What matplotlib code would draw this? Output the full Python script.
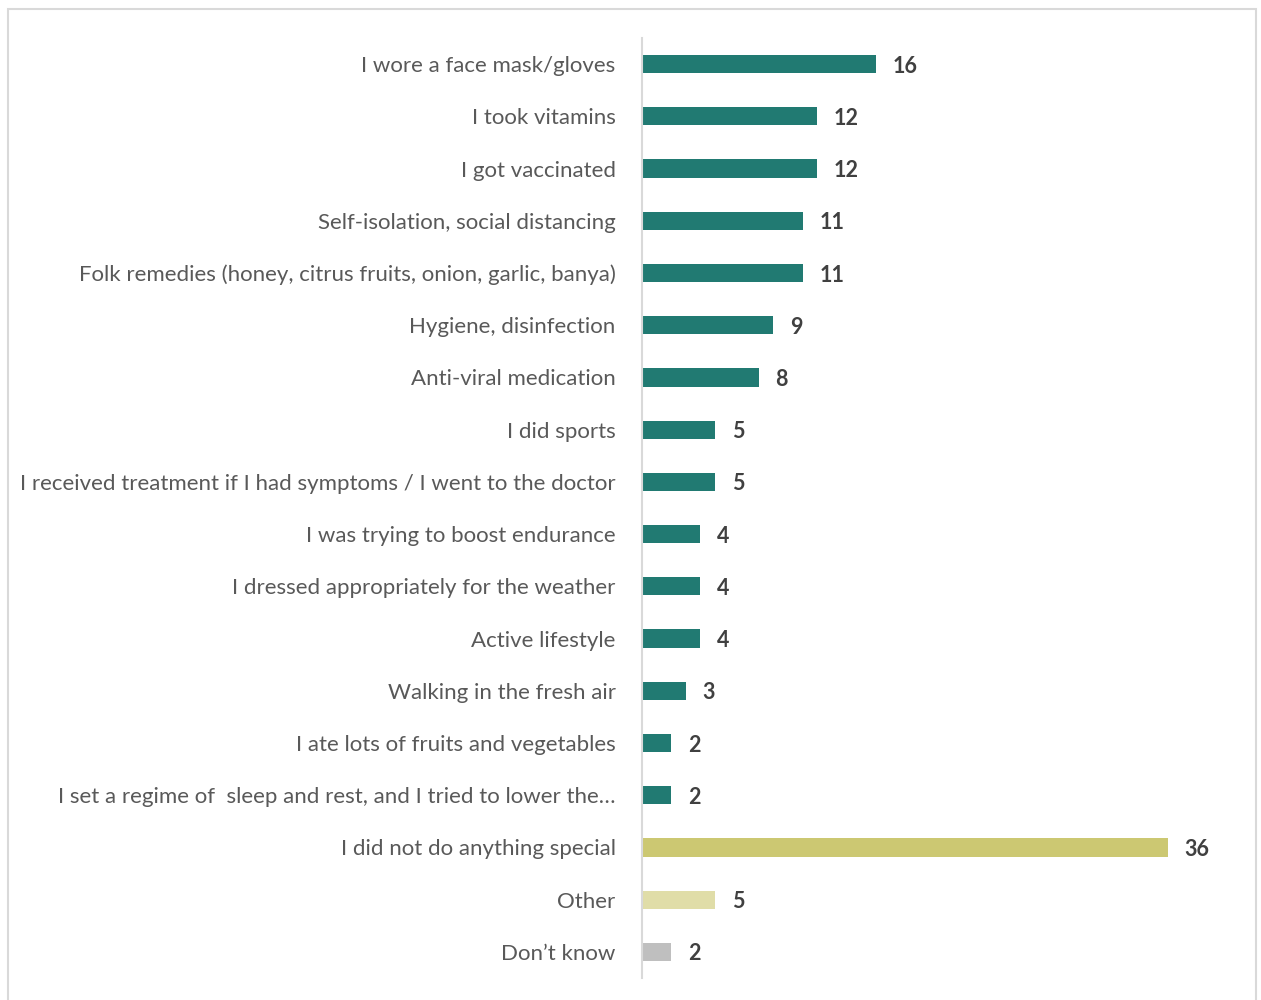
import matplotlib.pyplot as plt
from matplotlib.patches import Rectangle

categories = [
    "I wore a face mask/gloves",
    "I took vitamins",
    "I got vaccinated",
    "Self-isolation, social distancing",
    "Folk remedies (honey, citrus fruits, onion, garlic, banya)",
    "Hygiene, disinfection",
    "Anti-viral medication",
    "I did sports",
    "I received treatment if I had symptoms / I went to the doctor",
    "I was trying to boost endurance",
    "I dressed appropriately for the weather",
    "Active lifestyle",
    "Walking in the fresh air",
    "I ate lots of fruits and vegetables",
    "I set a regime of  sleep and rest, and I tried to lower the\u2026",
    "I did not do anything special",
    "Other",
    "Don\u2019t know",
]
values = [16, 12, 12, 11, 11, 9, 8, 5, 5, 4, 4, 4, 3, 2, 2, 36, 5, 2]

teal = "#217A72"
colors = [teal] * 15 + ["#CCC872", "#E0DDA8", "#BFBFBF"]

plt.rcParams['font.family'] = ['Lato', 'DejaVu Sans']

fig = plt.figure(figsize=(12.61, 10), dpi=100)
W, H = 1261, 1000

# light frame around the chart area
fig.patches.append(Rectangle((8 / W, -0.01), 1248 / W, 1 - 9 / H + 0.01,
                             transform=fig.transFigure, fill=False,
                             edgecolor="#D9D9D9", linewidth=1.5))

ax = fig.add_axes([642 / W, 1 - 978 / H, (1226 - 642) / W, (978 - 38) / H])

y = list(range(len(categories)))
ax.barh(y, values, height=0.35, color=colors)
ax.set_ylim(len(categories) - 0.5, -0.5)
ax.set_xlim(0, 40)

ax.set_yticks(y)
ax.set_yticklabels(categories, fontsize=16, color="#595959")
ax.tick_params(axis="y", length=0, pad=19)
ax.set_xticks([])

for i, v in enumerate(values):
    ax.annotate(str(v), (v, i), xytext=(12, 0), textcoords="offset points",
                va="center_baseline", ha="left", fontsize=15.5, fontweight="bold",
                color="#404040")

for side in ["top", "right", "bottom"]:
    ax.spines[side].set_visible(False)
ax.spines["left"].set_color("#D9D9D9")
ax.spines["left"].set_linewidth(1.5)

fig.savefig("out.png", dpi=100)
